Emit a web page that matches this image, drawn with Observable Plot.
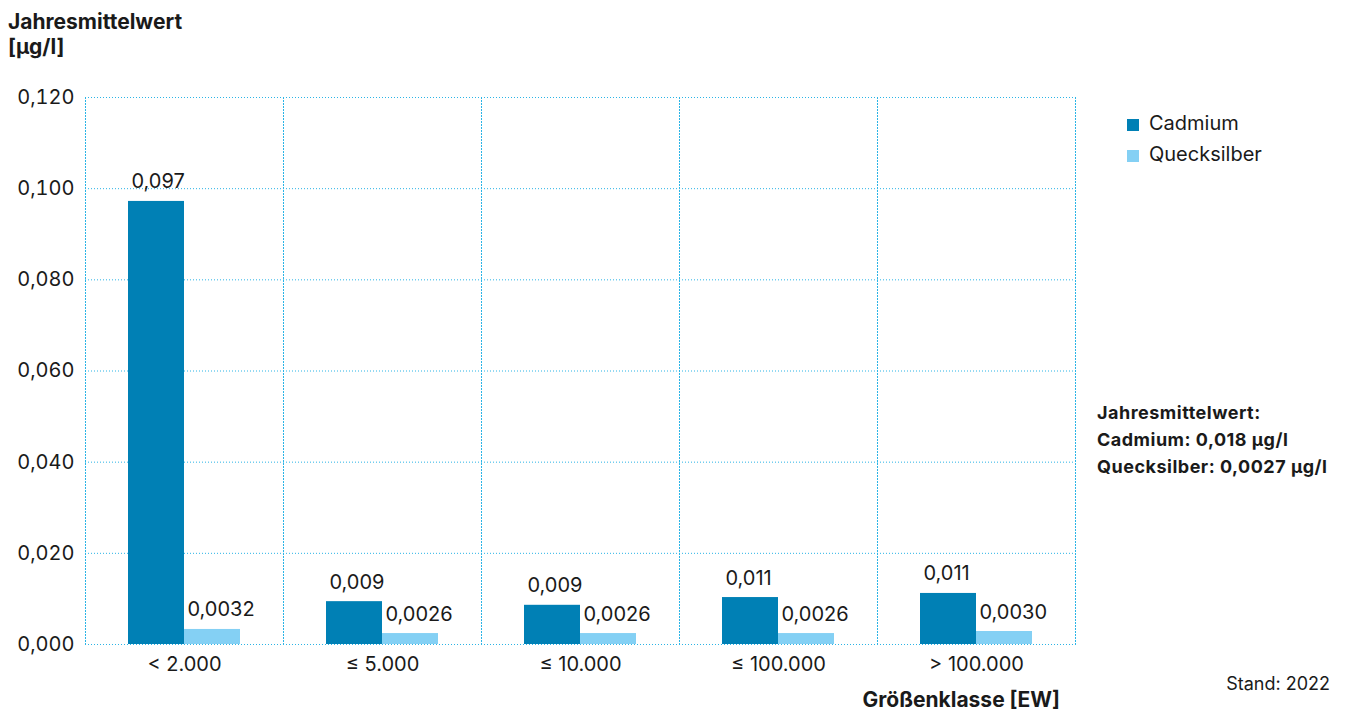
<!DOCTYPE html>
<html>
<head>
<meta charset="utf-8">
<script src="https://cdn.jsdelivr.net/npm/d3@7"></script>
<script src="https://cdn.jsdelivr.net/npm/@observablehq/plot@0.6"></script>
<style>
  html, body { margin: 0; padding: 0; background: #fff; }
  #chart { position: relative; width: 1347px; height: 713px; }
</style>
</head>
<body>
<div id="chart"></div>
<script>
const categories = ["< 2.000", "≤ 5.000", "≤ 10.000", "≤ 100.000", "> 100.000"];
const series = ["Cadmium", "Quecksilber"];
const cadmium = [0.0972, 0.0094, 0.0086, 0.0103, 0.0112];
const quecksilber = [0.0033, 0.0024, 0.0024, 0.0024, 0.00285];
const cadmiumLabels = ["0,097", "0,009", "0,009", "0,011", "0,011"];
const quecksilberLabels = ["0,0032", "0,0026", "0,0026", "0,0026", "0,0030"];
const yTicks = [0, 0.02, 0.04, 0.06, 0.08, 0.10, 0.12];
const colors = ["#0080b5", "#84d0f4"];
const gridColor = "#2bb4e6";
const titleLines = ["Jahresmittelwert", "[µg/l]"];
const noteLines = ["Jahresmittelwert:", "Cadmium: 0,018 µg/l", "Quecksilber: 0,0027 µg/l"];
const xLabel = "Größenklasse [EW]";
const stand = "Stand: 2022";

const rows = categories.flatMap((c, i) => [
  {cat: c, series: series[0], value: cadmium[i], label: cadmiumLabels[i]},
  {cat: c, series: series[1], value: quecksilber[i], label: quecksilberLabels[i]}
]);

const fmt = d => d.toFixed(3).replace(".", ",");
const font = "Inter, Roboto, sans-serif";
const dotted = {stroke: gridColor, strokeOpacity: 1, strokeWidth: 1, strokeDasharray: "1,2"};

const plot = Plot.plot({
  width: 1347,
  height: 713,
  marginLeft: 85,
  marginRight: 272,
  marginTop: 97,
  marginBottom: 69,
  style: `font-family: ${font}; font-size: 20px; color: #1a1a1a; background: #fff; overflow: visible;`,
  fx: {domain: categories, padding: 0, label: null, tickSize: 0, tickPadding: 12},
  x: {domain: series, paddingInner: 0, paddingOuter: 0.737, axis: null},
  y: {domain: [0, 0.12], ticks: yTicks, tickFormat: fmt, tickSize: 0, tickPadding: 11, label: null},
  color: {domain: series, range: colors},
  marks: [
    Plot.gridY(yTicks, dotted),
    Plot.frame({anchor: "right", ...dotted}),
    Plot.frame({anchor: "left", facetAnchor: "left", ...dotted}),
    Plot.barY(rows, {fx: "cat", x: "series", y: "value", fill: "series"}),
    Plot.text(rows, {fx: "cat", x: "series", y: "value", text: "label", textAnchor: "start",
      lineAnchor: "bottom", dx: -25, dy: -13, fontSize: 20, fill: "#1a1a1a"})
  ]
});

document.getElementById("chart").appendChild(plot);

const svg = d3.select(plot);
const g = svg.append("g")
  .attr("fill", "#1a1a1a")
  .attr("text-anchor", "start")
  .style("font-family", font);

// Title (y axis label)
titleLines.forEach((t, i) => {
  g.append("text").attr("x", 8).attr("y", 29 + i * 25).attr("font-size", 21).attr("font-weight", "bold").text(t);
});

// Legend
series.forEach((s, i) => {
  g.append("rect").attr("x", 1127).attr("y", 119 + i * 31).attr("width", 12).attr("height", 12).attr("fill", colors[i]);
  g.append("text").attr("x", 1149).attr("y", 130 + i * 31).attr("font-size", 20).text(s);
});

// Note
noteLines.forEach((t, i) => {
  g.append("text").attr("x", 1097).attr("y", 419 + i * 27).attr("font-size", 18).attr("letter-spacing", "0.5px").attr("font-weight", "bold").text(t);
});

// x axis title
g.append("text").attr("x", 1060).attr("y", 707).attr("text-anchor", "end").attr("font-size", 21).attr("font-weight", "bold").text(xLabel);

// Stand
g.append("text").attr("x", 1330).attr("y", 690).attr("text-anchor", "end").attr("font-size", 18).text(stand);
</script>
</body>
</html>
